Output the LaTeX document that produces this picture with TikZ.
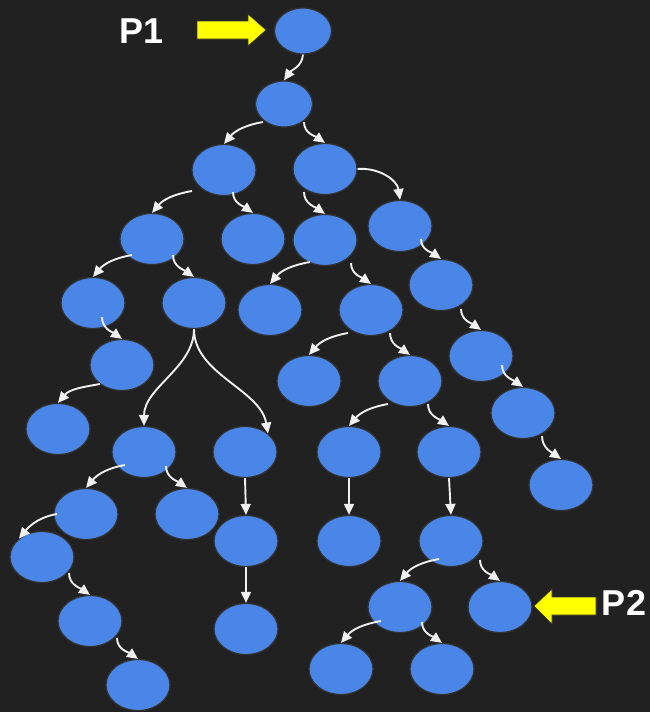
\documentclass[tikz,border=0pt]{standalone}
\usepackage{fontspec}
\setmainfont{Liberation Sans}
\usetikzlibrary{shapes.geometric,arrows.meta}
\definecolor{bg}{HTML}{212121}
\definecolor{nodeblue}{HTML}{4A86E8}
\definecolor{nodeline}{HTML}{333333}
\definecolor{arrowwhite}{HTML}{F0F0F0}
\definecolor{pointer}{HTML}{FFFF00}
\begin{document}
\begin{tikzpicture}[x=1pt,y=1pt,
  tn/.style={ellipse,fill=nodeblue,draw=nodeline,line width=1.2pt,inner sep=0pt},
  bn/.style={tn,minimum width=64pt,minimum height=51pt},
  sn/.style={tn,minimum width=57pt,minimum height=46pt},
  ar/.style={draw=arrowwhite,line width=1.9pt,-{Triangle[length=11pt,width=10pt]}},
  la/.style={ar,out=190,in=50},
  ra/.style={ar,out=-90,in=145},
  sa/.style={ar},
  lbl/.style={text=white,font=\fontsize{36}{36}\selectfont\bfseries,inner sep=0pt},
  ptr/.style={fill=pointer,draw=nodeline,line width=0.6pt}
]
\fill[bg] (0,0) rectangle (650,-712);
\useasboundingbox (0,0) rectangle (650,-712);

% nodes
\node[sn] (n1) at (303,-31) {};
\node[sn] (n2) at (284,-104) {};
\node[bn] (n3) at (224,-170) {};
\node[bn] (n4) at (325,-169) {};
\node[bn] (n5) at (400,-226) {};
\node[bn] (n6) at (152,-239) {};
\node[bn] (n7) at (253,-239) {};
\node[bn] (n8) at (325,-240) {};
\node[bn] (n9) at (441,-285) {};
\node[bn] (n10) at (93,-303) {};
\node[bn] (n11) at (194,-303) {};
\node[bn] (n12) at (270,-310) {};
\node[bn] (n13) at (371,-310) {};
\node[bn] (n14) at (122,-365) {};
\node[bn] (n15) at (309,-381) {};
\node[bn] (n16) at (410,-381) {};
\node[bn] (n17) at (481,-356) {};
\node[bn] (n18) at (58,-429) {};
\node[bn] (n19) at (144,-452) {};
\node[bn] (n20) at (245,-452) {};
\node[bn] (n21) at (349,-452) {};
\node[bn] (n22) at (449,-452) {};
\node[bn] (n23) at (523,-413) {};
\node[bn] (n24) at (561,-485) {};
\node[bn] (n25) at (86,-514) {};
\node[bn] (n26) at (187,-514) {};
\node[bn] (n27) at (42,-557) {};
\node[bn] (n28) at (246,-541) {};
\node[bn] (n29) at (349,-541) {};
\node[bn] (n30) at (451,-541) {};
\node[bn] (n31) at (90,-621) {};
\node[bn] (n32) at (246,-629) {};
\node[bn] (n33) at (400,-607) {};
\node[bn] (n34) at (500,-607) {};
\node[bn] (n35) at (138,-685) {};
\node[bn] (n36) at (341,-669) {};
\node[bn] (n37) at (442,-669) {};

% connectors
\draw[ar] (n1.south) to[out=-95,in=55] (n2.north);
\draw[la] ([shift={(-21,-18)}]n2.center) to (n3.north);
\draw[ra] ([shift={(20,-18)}]n2.center) to (n4.north);
\draw[la] ([shift={(-32,-21)}]n3.center) to (n6.north);
\draw[ra] ([shift={(9,-22)}]n3.center) to (n7.north);
\draw[ar] (n4.east) to[out=5,in=98] (n5.north);
\draw[ra] ([shift={(-21,-23)}]n4.center) to (n8.north);
\draw[ra] ([shift={(21,-13)}]n5.center) to (n9.north);
\draw[la] ([shift={(-20,-16)}]n6.center) to (n10.north);
\draw[ra] ([shift={(21,-16)}]n6.center) to (n11.north);
\draw[la] ([shift={(-15,-22)}]n8.center) to (n12.north);
\draw[ra] ([shift={(26,-23)}]n8.center) to (n13.north);
\draw[ra] ([shift={(20,-24)}]n9.center) to (n17.north);
\draw[ra] ([shift={(9,-14)}]n10.center) to (n14.north);
\draw[ar] (n11.south) to[out=-90,in=90,looseness=0.9] (n19.north);
\draw[ar] (n11.south) to[out=-90,in=100,looseness=0.9] (n20.north east);
\draw[la] ([shift={(-23,-23)}]n13.center) to (n15.north);
\draw[ra] ([shift={(19,-23)}]n13.center) to (n16.north);
\draw[la] ([shift={(-22,-19)}]n14.center) to (n18.north);
\draw[la] ([shift={(-22,-23)}]n16.center) to (n21.north);
\draw[ra] ([shift={(18,-23)}]n16.center) to (n22.north);
\draw[ra] ([shift={(21,-9)}]n17.center) to (n23.north);
\draw[la] ([shift={(-19,-13)}]n19.center) to (n25.north);
\draw[ra] ([shift={(22,-14)}]n19.center) to (n26.north);
\draw[sa] (n20.south) -- (n28.north);
\draw[sa] (n21.south) -- (n29.north);
\draw[sa] (n22.south) -- (n30.north);
\draw[ra] ([shift={(19,-23)}]n23.center) to (n24.north);
\draw[la] ([shift={(-29,0)}]n25.center) to (n27.north west);
\draw[ra] ([shift={(27,-16)}]n27.center) to (n31.north);
\draw[sa] (n28.south) -- (n32.north);
\draw[la] ([shift={(-12,-18)}]n30.center) to (n33.north);
\draw[ra] ([shift={(29,-19)}]n30.center) to (n34.north);
\draw[ra] ([shift={(27,-17)}]n31.center) to (n35.north);
\draw[la] ([shift={(-19,-14)}]n33.center) to (n36.north);
\draw[ra] ([shift={(22,-15)}]n33.center) to (n37.north);

% pointers
\coordinate (t1) at (266,-30);
\coordinate (t2) at (534,-606);
\fill[ptr] (t1) -- ++(-18,16) -- ++(0,-7) -- ++(-51,0) -- ++(0,-18) -- ++(51,0) -- ++(0,-7) -- cycle;
\fill[ptr] (t2) -- ++(18,17) -- ++(0,-8) -- ++(44,0) -- ++(0,-18) -- ++(-44,0) -- ++(0,-9) -- cycle;
\node[lbl] (p1) at (142,-31) {P1};
\node[lbl] (p2) at (624,-603) {P2};
\end{tikzpicture}
\end{document}
